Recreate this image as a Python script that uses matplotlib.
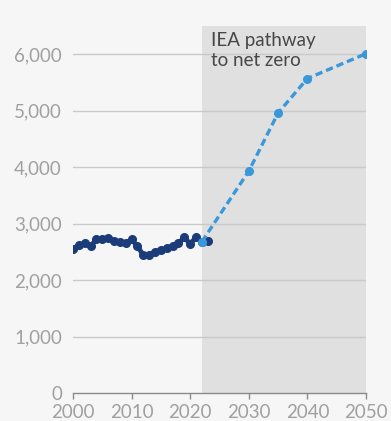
import matplotlib
matplotlib.use("Agg")
import matplotlib.pyplot as plt

# ---------------------------------------------------------------------------
# Data
# ---------------------------------------------------------------------------
hist_years = list(range(2000, 2024))
hist_values = [2550, 2620, 2650, 2600, 2720, 2730, 2750, 2690, 2680, 2650,
               2720, 2600, 2440, 2450, 2500, 2530, 2560, 2600, 2650, 2760,
               2640, 2760, 2680, 2700]

path_years = [2022, 2030, 2035, 2040, 2050]
path_values = [2680, 3930, 4960, 5570, 6010]

shade_start, shade_end = 2022, 2050
yticks = [0, 1000, 2000, 3000, 4000, 5000, 6000]
xticks = [2000, 2010, 2020, 2030, 2040, 2050]
note = "IEA pathway\nto net zero"

# ---------------------------------------------------------------------------
# Style
# ---------------------------------------------------------------------------
BG = "#f6f6f6"
SHADE = "#e0e0e0"
GRID = "#c9c9c9"
TICK_TXT = "#a0a0a0"
NAVY = "#1b3c78"
BLUE = "#3a98da"
FS = 13.5

plt.rcParams["font.family"] = ["Lato", "DejaVu Sans"]

fig = plt.figure(figsize=(3.91, 4.21), dpi=100, facecolor=BG)
ax = fig.add_axes([73 / 391, 28 / 421, 293 / 391, 367 / 421])
ax.set_facecolor(BG)

ax.axvspan(shade_start, shade_end, color=SHADE, zorder=0, lw=0)

for y in yticks[1:]:
    ax.axhline(y, color=GRID, lw=1.0, zorder=1)

ax.plot(hist_years, hist_values, color=NAVY, lw=3.5, marker="o",
        markersize=5.5, zorder=3, solid_capstyle="round")
ax.plot(path_years, path_values, color=BLUE, lw=2.4, ls=(0, (2.2, 1.2)),
        marker="o", markersize=5.5, zorder=4)

ax.text(2023.6, 6400, note, fontsize=FS, color="#474747",
        ha="left", va="top", linespacing=1.25, zorder=5)

ax.set_xlim(2000, 2050)
ax.set_ylim(0, 6500)
ax.set_xticks(xticks)
ax.set_yticks(yticks)
ax.set_yticklabels([f"{v:,}" for v in yticks])

for s in ["top", "right", "left"]:
    ax.spines[s].set_visible(False)
ax.spines["bottom"].set_color("#8a8a8a")
ax.spines["bottom"].set_linewidth(1.0)
ax.spines["bottom"].set_zorder(2)

ax.tick_params(axis="y", length=0, pad=8, labelsize=FS, labelcolor=TICK_TXT)
ax.tick_params(axis="x", length=4, width=1, color="#8a8a8a", pad=4,
               labelsize=FS, labelcolor=TICK_TXT)

fig.savefig("out.png", dpi=100, facecolor=BG)
